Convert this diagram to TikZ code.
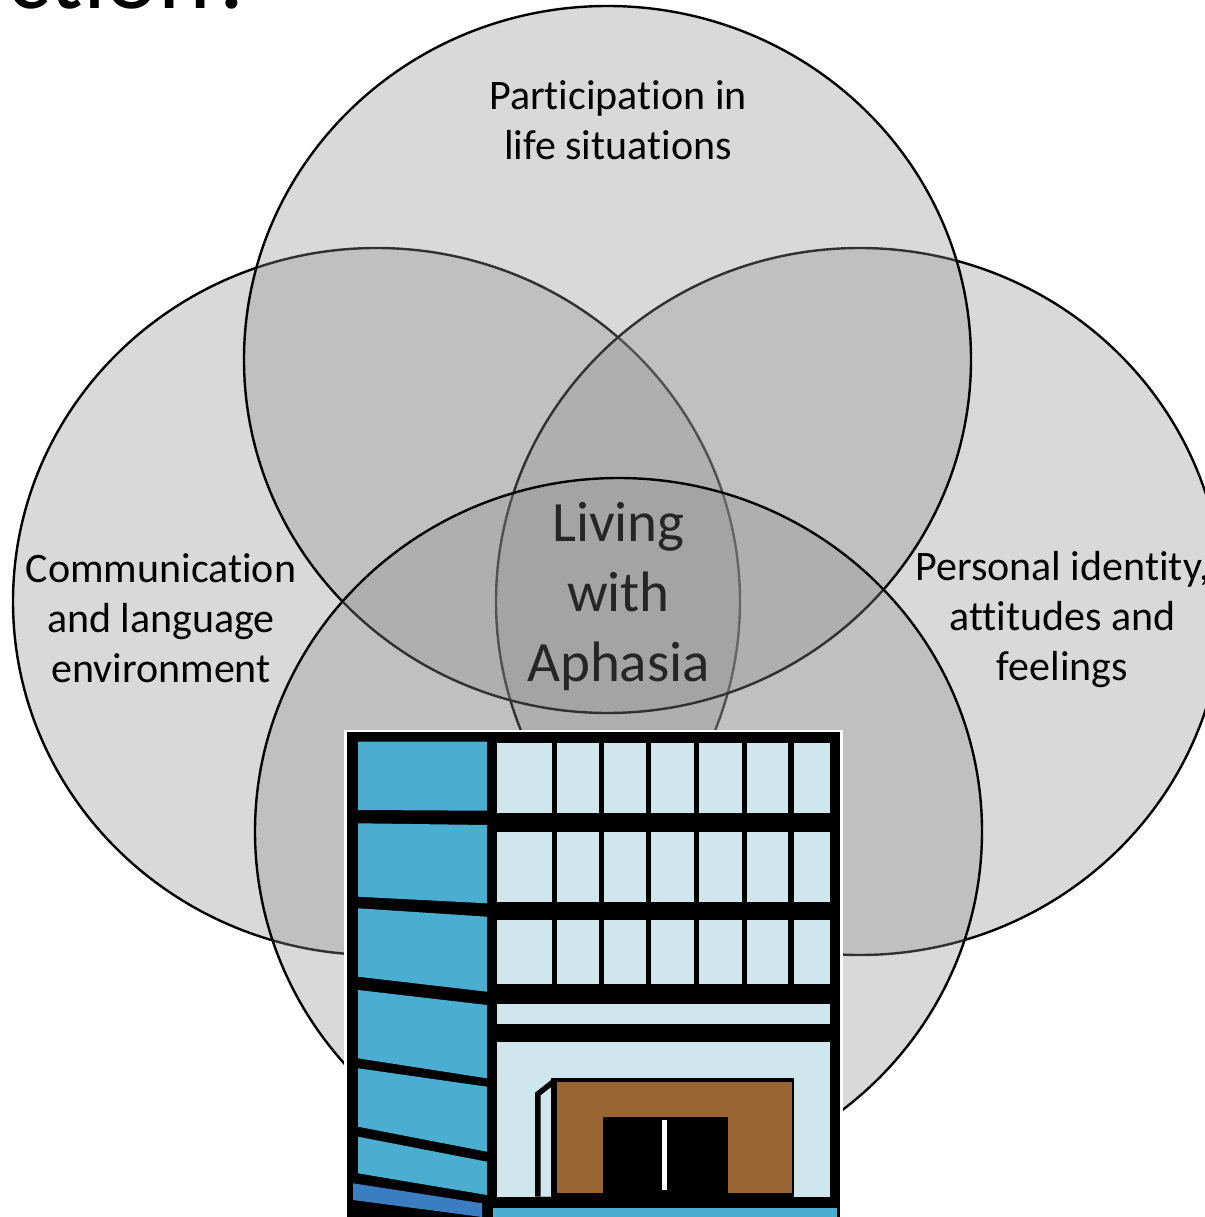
\documentclass[tikz,border=0pt]{standalone}
\usepackage{fontspec}
\setmainfont{Carlito}[Ligatures=NoCommon]
\definecolor{venngray}{RGB}{144,144,144}
\definecolor{sideblue}{RGB}{75,174,208}
\definecolor{deepblue}{RGB}{58,125,192}
\definecolor{glass}{RGB}{207,231,236}
\definecolor{doorbrown}{RGB}{153,102,51}
\definecolor{hubtext}{RGB}{38,38,38}
\begin{document}
\begin{tikzpicture}[x=1pt,y=-1pt,
  venn/.style={fill=venngray, fill opacity=0.342, draw=black, line width=2.4pt},
  lbl/.style={font=\fontsize{42}{50}\selectfont, align=center, inner sep=0pt, anchor=base},
  hub/.style={font=\fontsize{57}{70}\selectfont, align=center, inner sep=0pt, anchor=base, text=hubtext}]
\fill[white] (0,0) rectangle (1204,1217);
\useasboundingbox (0,0) rectangle (1204,1217);

% title fragment running off the top edge
\node[anchor=base west, inner sep=0pt, font=\fontsize{100}{110}\selectfont] (title) at (7,9) {ction?};

% the four overlapping domains
\path[venn] (376.5,601.5) ellipse [x radius=363.5pt, y radius=353.5pt];
\path[venn] (859.5,601.5) ellipse [x radius=363.5pt, y radius=353.5pt];
\path[venn] (607.5,359.5) ellipse [x radius=363.5pt, y radius=353.5pt];
\path[venn] (618.5,831.5) ellipse [x radius=363.5pt, y radius=353.5pt];

% domain labels (anchored at the baseline of the last line)
\node[lbl] (part) at (618,160) {Participation in\\life situations};
\node[lbl] (comm) at (161,682) {Communication\\and language\\environment};
\node[lbl] (pers) at (1062.5,680) {Personal identity,\\attitudes and\\feelings};
\node[hub] (hubl) at (618.5,681.7) {Living\\with\\Aphasia};

% building: white margin and black body
\fill[white] (344,730) rectangle (843,1217);
\fill[black] (347,732) rectangle (840,1217);

% side wall panels
\fill[sideblue] (358,741.7) -- (487,741.7) -- (487,810.7) -- (358,810) -- cycle;
\fill[sideblue] (358,823.3) -- (487,825) -- (487,903.3) -- (358,896.7) -- cycle;
\fill[sideblue] (358,908.3) -- (487,916.7) -- (487,991.7) -- (358,976.7) -- cycle;
\fill[sideblue] (358,990) -- (487,1005) -- (487,1078.3) -- (358,1058.3) -- cycle;
\fill[sideblue] (358,1068.3) -- (487,1086.7) -- (487,1151.7) -- (358,1126.7) -- cycle;
\fill[sideblue] (358,1136.7) -- (487,1161.7) -- (487,1195) -- (358,1173.3) -- cycle;
\fill[deepblue] (353,1183.3) -- (482,1203.3) -- (482,1217) -- (353,1200) -- cycle;

% window grid
\foreach \ya/\yb in {742.7/812.7, 831.7/901.7, 920/984}{
  \foreach \xa/\xb in {496.7/551.7, 556.7/599.3, 604.3/646, 651/694, 699/741.7, 746.7/788.3, 794/830}{
    \fill[glass] (\xa,\ya) rectangle (\xb,\yb);
  }
}
\fill[glass] (496.7,1004.3) rectangle (830,1024);
\fill[glass] (496.7,1042.3) rectangle (830,1196.7);

% entrance
\fill[black] (535,1092.7) -- (553.3,1078.3) -- (553.3,1196.7) -- (535,1196.7) -- cycle;
\fill[glass] (540.5,1095.5) -- (553.3,1085.5) -- (553.3,1196.7) -- (540.5,1196.7) -- cycle;
\fill[black] (551,1078.3) rectangle (794,1196.7);
\fill[doorbrown] (556.7,1081.7) rectangle (791.7,1193.3);
\fill[black] (603.3,1116.7) rectangle (728.3,1196.7);
\fill[white] (662,1120) rectangle (667,1190);

% base strip
\fill[sideblue] (493,1208) rectangle (837,1217);
\end{tikzpicture}
\end{document}
